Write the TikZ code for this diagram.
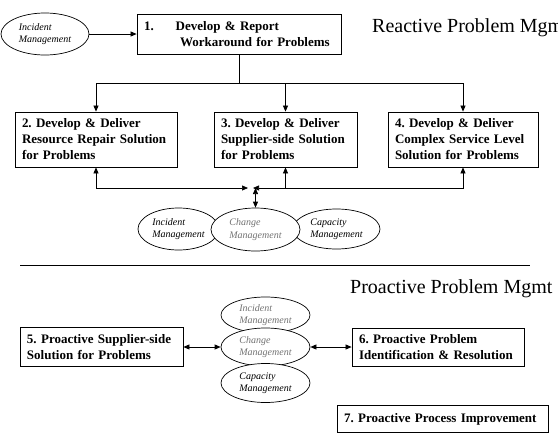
\documentclass[tikz,border=0pt]{standalone}
\usepackage{fontspec}
\setmainfont{Liberation Serif}
\usetikzlibrary{positioning,arrows.meta,shapes.geometric}
\frenchspacing

\begin{document}
\begin{tikzpicture}[
  x=1pt, y=-1pt,
  probox/.style={draw, line width=0.8pt, align=left, inner xsep=7pt, inner ysep=0pt, font=\fontsize{13}{16}\selectfont\bfseries},
  mgmt/.style={draw, ellipse, fill=white, line width=0.7pt, inner sep=0pt, align=left, font=\fontsize{10}{12.5}\selectfont\itshape},
  arrow/.style={line width=0.7pt, -{Triangle[length=6pt,width=5pt]}},
  biarrow/.style={line width=0.7pt, {Triangle[length=6pt,width=5pt]}-{Triangle[length=6pt,width=5pt]}},
  heading/.style={font=\fontsize{20}{24}\selectfont, inner sep=0pt}
]
\useasboundingbox (0,0) rectangle (558,445);

% reactive part
\node[mgmt, minimum width=88pt, minimum height=42pt] (incid) at (45,34) {Incident\\Management};
\node[probox, text width=190pt, minimum height=40pt] (report) at (239,34)
  {1.\hspace{22pt}Develop \& Report\\\hspace*{36pt}Workaround for Problems};
\node[heading, anchor=base west] (reactive) at (372,32) {Reactive Problem Mgmt};

\node[probox, text width=148pt, minimum height=55pt] (repair) at (96,139.5)
  {2. Develop \& Deliver\\Resource Repair Solution\\for Problems};
\node[probox, text width=129pt, minimum height=55pt] (supplier) at (285.5,139.5)
  {3. Develop \& Deliver\\Supplier-side Solution\\for Problems};
\node[probox, text width=136pt, minimum height=55pt] (complex) at (463,139.5)
  {4. Develop \& Deliver\\Complex Service Level\\Solution for Problems};

\node[mgmt, minimum width=81pt, minimum height=42pt] (incidB) at (178.5,229) {Incident\\Management};
\node[mgmt, minimum width=87pt, minimum height=40pt] (capacB) at (336.5,229) {Capacity\\Management};
\node[mgmt, minimum width=89pt, minimum height=43pt, text=black!55] (changeB) at (255.5,229.5) {Change\\Management};

\coordinate (fan) at (239,83);
\coordinate (busL) at (248,188);
\coordinate (busR) at (253,188);
\coordinate (busV) at (255.5,188);

\draw[arrow] (incid) -- (report);
\draw[line width=0.7pt] (report) -- (fan);
\draw[arrow] (fan) -| (repair);
\draw[arrow] (fan) -| (supplier);
\draw[arrow] (fan) -| (complex);
\draw[biarrow] (repair) |- (busL);
\draw[biarrow] (complex) |- (busR);
\draw[arrow] (supplier.south |- busR) -- (supplier);
\draw[biarrow] (busV) -- (changeB);

% separator
\draw[line width=0.8pt] (20,265) -- (530,265);

% proactive part
\node[heading, anchor=base west] (proactive) at (350,293) {Proactive Problem Mgmt};

\node[mgmt, minimum width=89pt, minimum height=36pt, text=black!55] (incidC) at (265.5,315) {Incident\\Management};
\node[mgmt, minimum width=89pt, minimum height=38pt, text=black!55] (changeC) at (265.5,347) {Change\\Management};
\node[mgmt, minimum width=89pt, minimum height=39pt] (capacC) at (265.5,383) {Capacity\\Management};

\node[probox, text width=149pt, minimum height=39pt] (proSup) at (101.5,347)
  {5. Proactive Supplier-side\\Solution for Problems};
\node[probox, text width=158pt, minimum height=38pt] (proIdent) at (438,347)
  {6. Proactive Problem\\Identification \& Resolution};
\node[probox, text width=197pt, minimum height=27pt] (improve) at (442.5,419)
  {7. Proactive Process Improvement};

\draw[biarrow] (proSup) -- (changeC);
\draw[biarrow] (changeC) -- (proIdent);
\end{tikzpicture}
\end{document}
